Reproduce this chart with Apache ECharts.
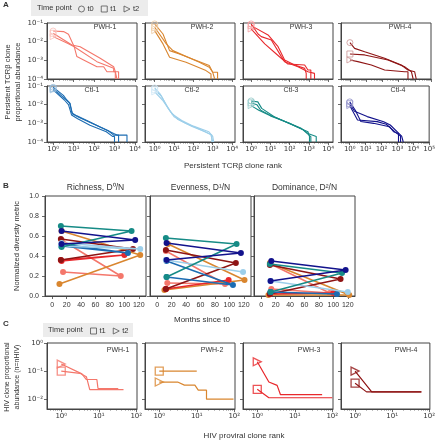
<!DOCTYPE html>
<html><head><meta charset="utf-8">
<script src="https://cdn.jsdelivr.net/npm/echarts@6/dist/echarts.min.js"></script>
<style>html,body{margin:0;padding:0;background:#fff}#c{width:438px;height:440px}</style>
</head><body><div id="c"></div>
<script>
// ================= DATA =================
const patients = ['PWH-1','PWH-2','PWH-3','PWH-4','Ctl-1','Ctl-2','Ctl-3','Ctl-4'];
const timePointsA = ['t0','t1','t2'];
const timePointsC = ['t1','t2'];
const patientColors = ['#f4776b','#d9862f','#e8282c','#8e1414','#1c6cb2','#9dcfea','#168b86','#12128c'];

// Panel A: persistent TCRb clones, points as [log10(rank), log10(proportional abundance)]
const a_pwh1_t0 = [[0,-1.43],[0.51,-1.46],[0.75,-1.6],[1.03,-2.27],[2.14,-3.07],[2.96,-3.43],[2.96,-3.61],[3.2,-3.61],[3.2,-4]];
const a_pwh1_t1 = [[0,-1.55],[0.92,-2.18],[1.32,-2.27],[2.3,-2.89],[2.96,-3.34],[3.04,-3.61],[3.12,-3.61],[3.12,-4]];
const a_pwh1_t2 = [[0,-1.73],[0.7,-2.09],[1.03,-2.27],[1.16,-2.8],[1.49,-2.98],[2.14,-3.34],[2.47,-3.34],[2.63,-3.61],[3.04,-3.61],[3.04,-4]];
const a_pwh2_t0 = [[0,-1.05],[0.43,-1.59],[0.77,-2.48],[1.28,-2.66],[2.82,-3.28],[3.0,-3.64],[3.25,-3.64],[3.25,-4]];
const a_pwh2_t1 = [[0,-1.23],[0.6,-2.12],[0.94,-2.48],[2.31,-3.1],[2.82,-3.37],[3.0,-3.64],[3.1,-3.64],[3.1,-4]];
const a_pwh2_t2 = [[0,-1.41],[0.43,-2.12],[0.77,-2.84],[1.62,-3.1],[2.65,-3.55],[2.91,-3.73],[2.91,-4]];
const a_pwh3_t0 = [[0,-1.05],[0.36,-1.59],[0.53,-1.73],[1.05,-1.91],[1.57,-2.8],[1.74,-3.07],[2.43,-3.34],[2.95,-3.61],[3.29,-3.7],[3.29,-4]];
const a_pwh3_t1 = [[0,-1.14],[0.88,-1.64],[1.4,-2.27],[1.74,-2.98],[2.26,-3.25],[2.78,-3.43],[2.86,-3.7],[2.86,-4]];
const a_pwh3_t2 = [[0,-1.32],[0.71,-2.12],[1.31,-2.66],[1.91,-3.2],[2.78,-3.25],[2.95,-3.52],[3.1,-3.52],[3.1,-4]];
const a_pwh4_t0 = [[0,-2.05],[0.29,-2.36],[0.91,-2.54],[2.14,-2.89],[3.17,-3.25],[3.58,-3.52],[3.99,-3.61],[4.09,-3.61],[4.09,-4]];
const a_pwh4_t1 = [[0,-2.66],[0.91,-2.71],[2.35,-2.98],[3.37,-3.34],[3.79,-3.61],[3.9,-3.61],[3.9,-4]];
const a_pwh4_t2 = [[0,-2.98],[0.49,-3.07],[1.32,-3.25],[2.14,-3.52],[3.37,-3.61],[3.58,-3.61],[3.58,-4]];
const a_ctl1_t0 = [[0,-1.07],[0.5,-1.5],[0.67,-1.75],[0.83,-1.93],[0.92,-2.45],[1.16,-2.6],[1.65,-2.85],[2.3,-3.2],[2.96,-3.55],[3.12,-3.63],[3.61,-3.63],[3.61,-4]];
const a_ctl1_t1 = [[0,-1.14],[0.6,-1.7],[0.8,-1.9],[0.95,-2.5],[1.3,-2.7],[2.0,-3.05],[2.7,-3.4],[2.96,-3.63],[3.2,-3.63],[3.2,-4]];
const a_ctl1_t2 = [[0,-1.21],[0.55,-1.75],[0.75,-2.0],[0.9,-2.55],[1.2,-2.75],[1.8,-3.1],[2.6,-3.45],[2.9,-3.7],[3.0,-3.7],[3.0,-4]];
const a_ctl2_t0 = [[0,-1.1],[0.3,-1.45],[0.6,-2.0],[0.9,-2.5],[1.4,-2.85],[2.0,-3.15],[2.8,-3.45],[3.0,-3.7],[3.05,-3.7],[3.05,-4]];
const a_ctl2_t1 = [[0,-1.2],[0.35,-1.55],[0.7,-2.2],[1.0,-2.65],[1.6,-3.0],[2.3,-3.3],[2.9,-3.6],[3.0,-3.7],[3.0,-4]];
const a_ctl2_t2 = [[0,-1.32],[0.4,-1.75],[0.8,-2.35],[1.2,-2.8],[1.9,-3.15],[2.6,-3.45],[2.95,-3.63],[2.95,-4]];
const a_ctl3_t0 = [[0,-1.8],[0.35,-1.85],[0.55,-2.2],[1.2,-2.65],[2.3,-3.15],[2.95,-3.45],[3.03,-3.71],[3.03,-4]];
const a_ctl3_t1 = [[0,-1.9],[0.3,-2.0],[0.5,-2.3],[1.05,-2.6],[2.6,-3.27],[2.95,-3.54],[3.38,-3.71],[3.38,-4]];
const a_ctl3_t2 = [[0,-2.05],[0.4,-2.3],[1.0,-2.6],[2.0,-3.0],[2.7,-3.35],[2.9,-3.54],[3.1,-3.71],[3.1,-4]];
const a_ctl4_t0 = [[0,-1.85],[0.35,-2.3],[0.7,-2.9],[1.5,-3.0],[2.5,-3.18],[2.76,-3.45],[3.07,-3.54],[3.07,-4]];
const a_ctl4_t1 = [[0,-1.95],[0.3,-2.35],[1.1,-2.64],[2.14,-2.91],[2.55,-3.09],[3.27,-3.68],[3.37,-3.68],[3.37,-4]];
const a_ctl4_t2 = [[0,-2.05],[0.49,-2.82],[1.73,-2.91],[2.3,-3.05],[2.9,-3.5],[3.2,-3.68],[3.2,-4]];
const aXMajor = [[0,1,2,3,4],[0,1,2,3,4],[0,1,2,3,4],[0,1,2,3,4,5]];
const aYMajor = [-4,-3,-2,-1];

// Panel B: [months since t0, normalized diversity]
const b_rich_pwh1 = [[13,0.56],[95,0.20],[15,0.24]];
const b_rich_pwh2 = [[13,0.65],[122,0.41],[10,0.12]];
const b_rich_pwh3 = [[12,0.36],[100,0.41],[13,0.35]];
const b_rich_pwh4 = [[12,0.57],[112,0.47],[12,0.36]];
const b_rich_ctl1 = [[13,0.52],[105,0.43],[13,0.50]];
const b_rich_ctl2 = [[13,0.53],[122,0.47],[12,0.50]];
const b_rich_ctl3 = [[12,0.70],[110,0.65],[13,0.49]];
const b_rich_ctl4 = [[13,0.65],[115,0.56],[13,0.52]];
const b_even_pwh1 = [[12,0.45],[94,0.12],[14,0.13]];
const b_even_pwh2 = [[15,0.52],[121,0.16],[10,0.06]];
const b_even_pwh3 = [[12,0.07],[99,0.16],[12,0.07]];
const b_even_pwh4 = [[12,0.46],[109,0.33],[12,0.07]];
const b_even_ctl1 = [[13,0.19],[105,0.11],[13,0.35]];
const b_even_ctl2 = [[12,0.36],[119,0.24],[12,0.36]];
const b_even_ctl3 = [[12,0.58],[110,0.52],[13,0.19]];
const b_even_ctl4 = [[13,0.53],[116,0.43],[13,0.36]];
const b_dom_pwh1 = [[13,0.32],[95,0.03],[14,0.07]];
const b_dom_pwh2 = [[12,0.33],[122,0.01],[10,0.01]];
const b_dom_pwh3 = [[12,0.02],[100,0.03],[12,0.02]];
const b_dom_pwh4 = [[12,0.31],[110,0.17],[12,0.02]];
const b_dom_ctl1 = [[13,0.04],[105,0.02],[13,0.04]];
const b_dom_ctl2 = [[13,0.15],[120,0.04],[13,0.15]];
const b_dom_ctl3 = [[12,0.32],[112,0.23],[13,0.04]];
const b_dom_ctl4 = [[14,0.35],[117,0.26],[13,0.15]];
const bTitles = ['Richness, D\u2070/N','Evenness, D\u00b9/N','Dominance, D\u00b2/N'];
const bXTicks = [0,20,40,60,80,100,120];

// Panel C: HIV proviral clones, [log10(rank), log10(proportional abundance)]
const c_pwh1_t1 = [[0,-1.0],[0.5,-1.08],[0.67,-1.2],[0.76,-1.66],[1.66,-1.66]];
const c_pwh1_t2 = [[0,-0.75],[0.55,-1.1],[0.67,-1.3],[0.95,-1.3],[0.98,-1.62],[1.52,-1.62]];
const c_pwh2_t1 = [[0,-1.0],[1.0,-1.0]];
const c_pwh2_t2 = [[0,-1.39],[0.49,-1.39],[0.67,-1.5],[0.95,-1.5],[1.04,-1.68],[1.26,-1.68],[1.26,-2.0],[1.98,-2.0]];
const c_pwh3_t1 = [[0,-1.65],[0.31,-1.95],[2.0,-1.95]];
const c_pwh3_t2 = [[0,-0.67],[0.31,-1.39],[0.53,-1.51],[0.62,-1.84],[1.73,-1.84]];
const c_pwh4_t1 = [[0,-1.43],[0.31,-1.74],[1.79,-1.74]];
const c_pwh4_t2 = [[0,-1.0],[0.45,-1.74],[1.79,-1.74]];
const cXMajor = [0,1,2];
const cYMajor = [-2,-1,0];

// ================= BUILD =================
const aCurves = [
  [a_pwh1_t0,a_pwh1_t1,a_pwh1_t2],[a_pwh2_t0,a_pwh2_t1,a_pwh2_t2],
  [a_pwh3_t0,a_pwh3_t1,a_pwh3_t2],[a_pwh4_t0,a_pwh4_t1,a_pwh4_t2],
  [a_ctl1_t0,a_ctl1_t1,a_ctl1_t2],[a_ctl2_t0,a_ctl2_t1,a_ctl2_t2],
  [a_ctl3_t0,a_ctl3_t1,a_ctl3_t2],[a_ctl4_t0,a_ctl4_t1,a_ctl4_t2]];
const bData = [
  [b_rich_pwh1,b_rich_pwh2,b_rich_pwh3,b_rich_pwh4,b_rich_ctl1,b_rich_ctl2,b_rich_ctl3,b_rich_ctl4],
  [b_even_pwh1,b_even_pwh2,b_even_pwh3,b_even_pwh4,b_even_ctl1,b_even_ctl2,b_even_ctl3,b_even_ctl4],
  [b_dom_pwh1,b_dom_pwh2,b_dom_pwh3,b_dom_pwh4,b_dom_ctl1,b_dom_ctl2,b_dom_ctl3,b_dom_ctl4]];
const cCurves = [[c_pwh1_t1,c_pwh1_t2],[c_pwh2_t1,c_pwh2_t2],[c_pwh3_t1,c_pwh3_t2],[c_pwh4_t1,c_pwh4_t2]];

const TXT = '#333', AX = '#444';
const FONT = 'Liberation Sans, Arial, sans-serif';
const triPath = 'path://M0,0L10,5L0,10Z';
const symbolsA = ['circle','rect',triPath];
const symbolsC = ['rect',triPath];
const SUP = {'0':'\u2070','1':'\u00b9','2':'\u00b2','3':'\u00b3','4':'\u2074','5':'\u2075','-':'\u207b'};
const sup = v => String(Math.round(v)).split('').map(c=>SUP[c]).join('');
const logFmt = v => '10' + sup(v);
function lighten(hex, f){
  const n = parseInt(hex.slice(1),16);
  const r=(n>>16)&255,g=(n>>8)&255,b=n&255;
  const m=c=>Math.round(c+(255-c)*f);
  return 'rgb('+m(r)+','+m(g)+','+m(b)+')';
}
function minorLogs(min,max){
  const out=[];
  for(let d=Math.floor(min)-1; d<=Math.ceil(max); d++){
    for(let k=2;k<=9;k++){const v=d+Math.log10(k); if(v>min&&v<max) out.push(v);}
  }
  return out;
}

const grids=[], xAxes=[], yAxes=[], series=[], graphics=[];
function addGrid(l,t,w,h){grids.push({left:l,top:t,width:w,height:h,show:true,borderColor:AX,borderWidth:1,backgroundColor:'transparent'});return grids.length-1;}
function addX(gi,min,max,majors,showLabels,minor,labelOpt){
  xAxes.push({gridIndex:gi,type:'value',min,max,position:'bottom',
    axisLine:{show:true,onZero:false,lineStyle:{color:AX,width:1}},
    axisTick:{show:true,length:3,lineStyle:{color:AX,width:0.8},customValues:majors},
    axisLabel:Object.assign({show:showLabels,customValues:majors,fontSize:7,color:TXT,margin:4,fontFamily:'DejaVu Sans',formatter:logFmt},labelOpt||{}),
    splitLine:{show:false}});
  const main=xAxes.length-1;
  if(minor){
    xAxes.push({gridIndex:gi,type:'value',min,max,position:'bottom',
      axisLine:{show:false,onZero:false},axisTick:{show:true,length:1.6,lineStyle:{color:AX,width:0.6},customValues:minorLogs(min,max)},
      axisLabel:{show:false},splitLine:{show:false}});
  }
  return main;
}
function addY(gi,min,max,majors,showLabels,labelOpt,extra){
  yAxes.push(Object.assign({gridIndex:gi,type:'value',min,max,
    axisLine:{show:true,onZero:false,lineStyle:{color:AX,width:1}},
    axisTick:{show:true,length:3,lineStyle:{color:AX,width:0.8},customValues:majors},
    axisLabel:Object.assign({show:showLabels,customValues:majors,fontSize:7,color:TXT,margin:4,fontFamily:'DejaVu Sans',formatter:logFmt},labelOpt||{}),
    splitLine:{show:false}},extra||{}));
  return yAxes.length-1;
}
function addText(x,y,text,opt){
  graphics.push(Object.assign({type:'text',x,y,z:10,style:Object.assign({text,fill:TXT,font:'7px '+FONT,textAlign:'center',textVerticalAlign:'middle'},opt&&opt.style||{})},opt&&opt.el||{}));
}

// ---- Panel A ----
const aLefts=[47,145,243,341], aW=90, aTops=[23,86], aH=56;
const aXRange=[[-0.3,4.1],[-0.5,4.15],[-0.42,4.25],[-0.55,5.0]];
const aTitleX=[105,202,301,400,92,192,291,398];
for(let p=0;p<8;p++){
  const row=Math.floor(p/4), col=p%4;
  const gi=addGrid(aLefts[col],aTops[row],aW,aH);
  const xi=addX(gi,aXRange[col][0],aXRange[col][1],aXMajor[col],row===1,true);
  const yi=addY(gi,-4,-1,aYMajor,col===0,{margin:4});
  const c=patientColors[p], lc=lighten(c,0.55);
  aCurves[p].forEach((curve,t)=>{
    series.push({type:'line',xAxisIndex:xi,yAxisIndex:yi,data:curve,symbol:'none',showSymbol:false,
      lineStyle:{color:c,width:1.1},silent:true,animation:false,z:2});
  });
  aCurves[p].forEach((curve,t)=>{
    series.push({type:'scatter',xAxisIndex:xi,yAxisIndex:yi,data:[curve[0]],symbol:symbolsA[t],symbolSize:6,
      itemStyle:{color:'rgba(255,255,255,0)',borderColor:lc,borderWidth:1},silent:true,animation:false,z:3});
  });
  addText(aTitleX[p],aTops[row]+4,patients[p],{style:{textVerticalAlign:'middle',font:'7px '+FONT}});
}

// ---- Panel B ----
const bLefts=[45,150,254], bW=101, bTop=196, bH=100;
for(let m=0;m<3;m++){
  const gi=addGrid(bLefts[m],bTop,bW,bH);
  const xi=addX(gi,-10,130,bXTicks,true,false,{fontFamily:FONT,fontSize:7,margin:6,formatter:v=>String(v)});
  const yi=addY(gi,0,1,[0,0.2,0.4,0.6,0.8,1.0],m===0,{fontFamily:FONT,fontSize:7,margin:6,formatter:v=>v.toFixed(1)},
    m===0?{name:'Normalized diversity metric',nameLocation:'middle',nameGap:24,nameTextStyle:{fontFamily:FONT,fontSize:7.5,color:TXT}}:{});
  for(let p=0;p<8;p++){
    series.push({type:'line',xAxisIndex:xi,yAxisIndex:yi,data:bData[m][p],symbol:'circle',symbolSize:6,showSymbol:true,
      itemStyle:{color:patientColors[p]},lineStyle:{color:patientColors[p],width:1.5},silent:true,animation:false,z:2+p*0.01});
  }
  addText(bLefts[m]+bW/2,bTop-8,bTitles[m],{style:{font:'8.5px '+FONT}});
}

// ---- Panel C ----
const cLefts=[47,145,243,341], cW=90, cTop=343, cH=66;
const cTitleX=[118,212,309,406];
for(let p=0;p<4;p++){
  const gi=addGrid(cLefts[p],cTop,cW,cH);
  const xi=addX(gi,-0.38,2.02,cXMajor,true,true);
  const yi=addY(gi,-2.35,0,cYMajor,p===0);
  const c=patientColors[p];
  cCurves[p].forEach((curve,t)=>{
    series.push({type:'line',xAxisIndex:xi,yAxisIndex:yi,data:curve,symbol:'none',showSymbol:false,
      lineStyle:{color:c,width:1.2},silent:true,animation:false,z:2});
    series.push({type:'scatter',xAxisIndex:xi,yAxisIndex:yi,data:[curve[0]],symbol:symbolsC[t],symbolSize:8,
      itemStyle:{color:'rgba(255,255,255,0)',borderColor:c,borderWidth:1.3},silent:true,animation:false,z:3});
  });
  addText(cTitleX[p],cTop+7,patients[p],{style:{font:'7px '+FONT}});
}

// legend dummy series
['t0','t1','t2'].forEach((n,i)=>series.push({type:'scatter',name:n,xAxisIndex:0,yAxisIndex:0,data:[],symbol:symbolsA[i],
  itemStyle:{color:'rgba(255,255,255,0)',borderColor:'#555',borderWidth:1}}));

// Texts and legend boxes
graphics.push({type:'rect',shape:{x:31,y:0,width:117,height:16},style:{fill:'#ececec'},z:0});
graphics.push({type:'rect',shape:{x:43,y:323,width:90,height:14},style:{fill:'#ececec'},z:0});
addText(37,8,'Time point',{style:{textAlign:'left',font:'7.5px '+FONT}});
addText(48,330,'Time point',{style:{textAlign:'left',font:'7.5px '+FONT}});
addText(3,5,'A',{style:{textAlign:'left',font:'bold 8px '+FONT}});
addText(3,186,'B',{style:{textAlign:'left',font:'bold 8px '+FONT}});
addText(3,324,'C',{style:{textAlign:'left',font:'bold 8px '+FONT}});
addText(233,166,'Persistent TCR\u03b2 clone rank',{style:{font:'8px '+FONT}});
addText(202,320,'Months since t0',{style:{font:'8px '+FONT}});
addText(244,436,'HIV proviral clone rank',{style:{font:'8px '+FONT}});
addText(8,82,'Persistent TCR\u03b2 clone',{el:{rotation:Math.PI/2},style:{font:'7.5px '+FONT}});
addText(18,82,'proportional abundance',{el:{rotation:Math.PI/2},style:{font:'7.5px '+FONT}});
addText(7,377,'HIV clone proportional',{el:{rotation:Math.PI/2},style:{font:'7px '+FONT}});
addText(17,377,'abundance (n=nHIV)',{el:{rotation:Math.PI/2},style:{font:'7px '+FONT}});

const legendCommon = {orient:'horizontal',itemWidth:6,itemHeight:6,itemGap:7,selectedMode:false,
  textStyle:{fontSize:7.5,color:TXT,fontFamily:FONT,padding:[0,0,0,-2]},
  itemStyle:{color:'rgba(255,255,255,0)',borderColor:'#555',borderWidth:1},padding:0};
const option = {
  animation:false,
  backgroundColor:'#fff',
  grid:grids, xAxis:xAxes, yAxis:yAxes, series,
  legend:[
    Object.assign({},legendCommon,{left:78,top:5,data:[{name:'t0',icon:'circle'},{name:'t1',icon:'rect'},{name:'t2',icon:triPath}]}),
    Object.assign({},legendCommon,{left:90,top:327,data:[{name:'t1',icon:'rect'},{name:'t2',icon:triPath}]})
  ],
  graphic:{elements:graphics}
};
const chart = echarts.init(document.getElementById('c'),null,{renderer:'canvas'});
chart.setOption(option);
</script></body></html>
